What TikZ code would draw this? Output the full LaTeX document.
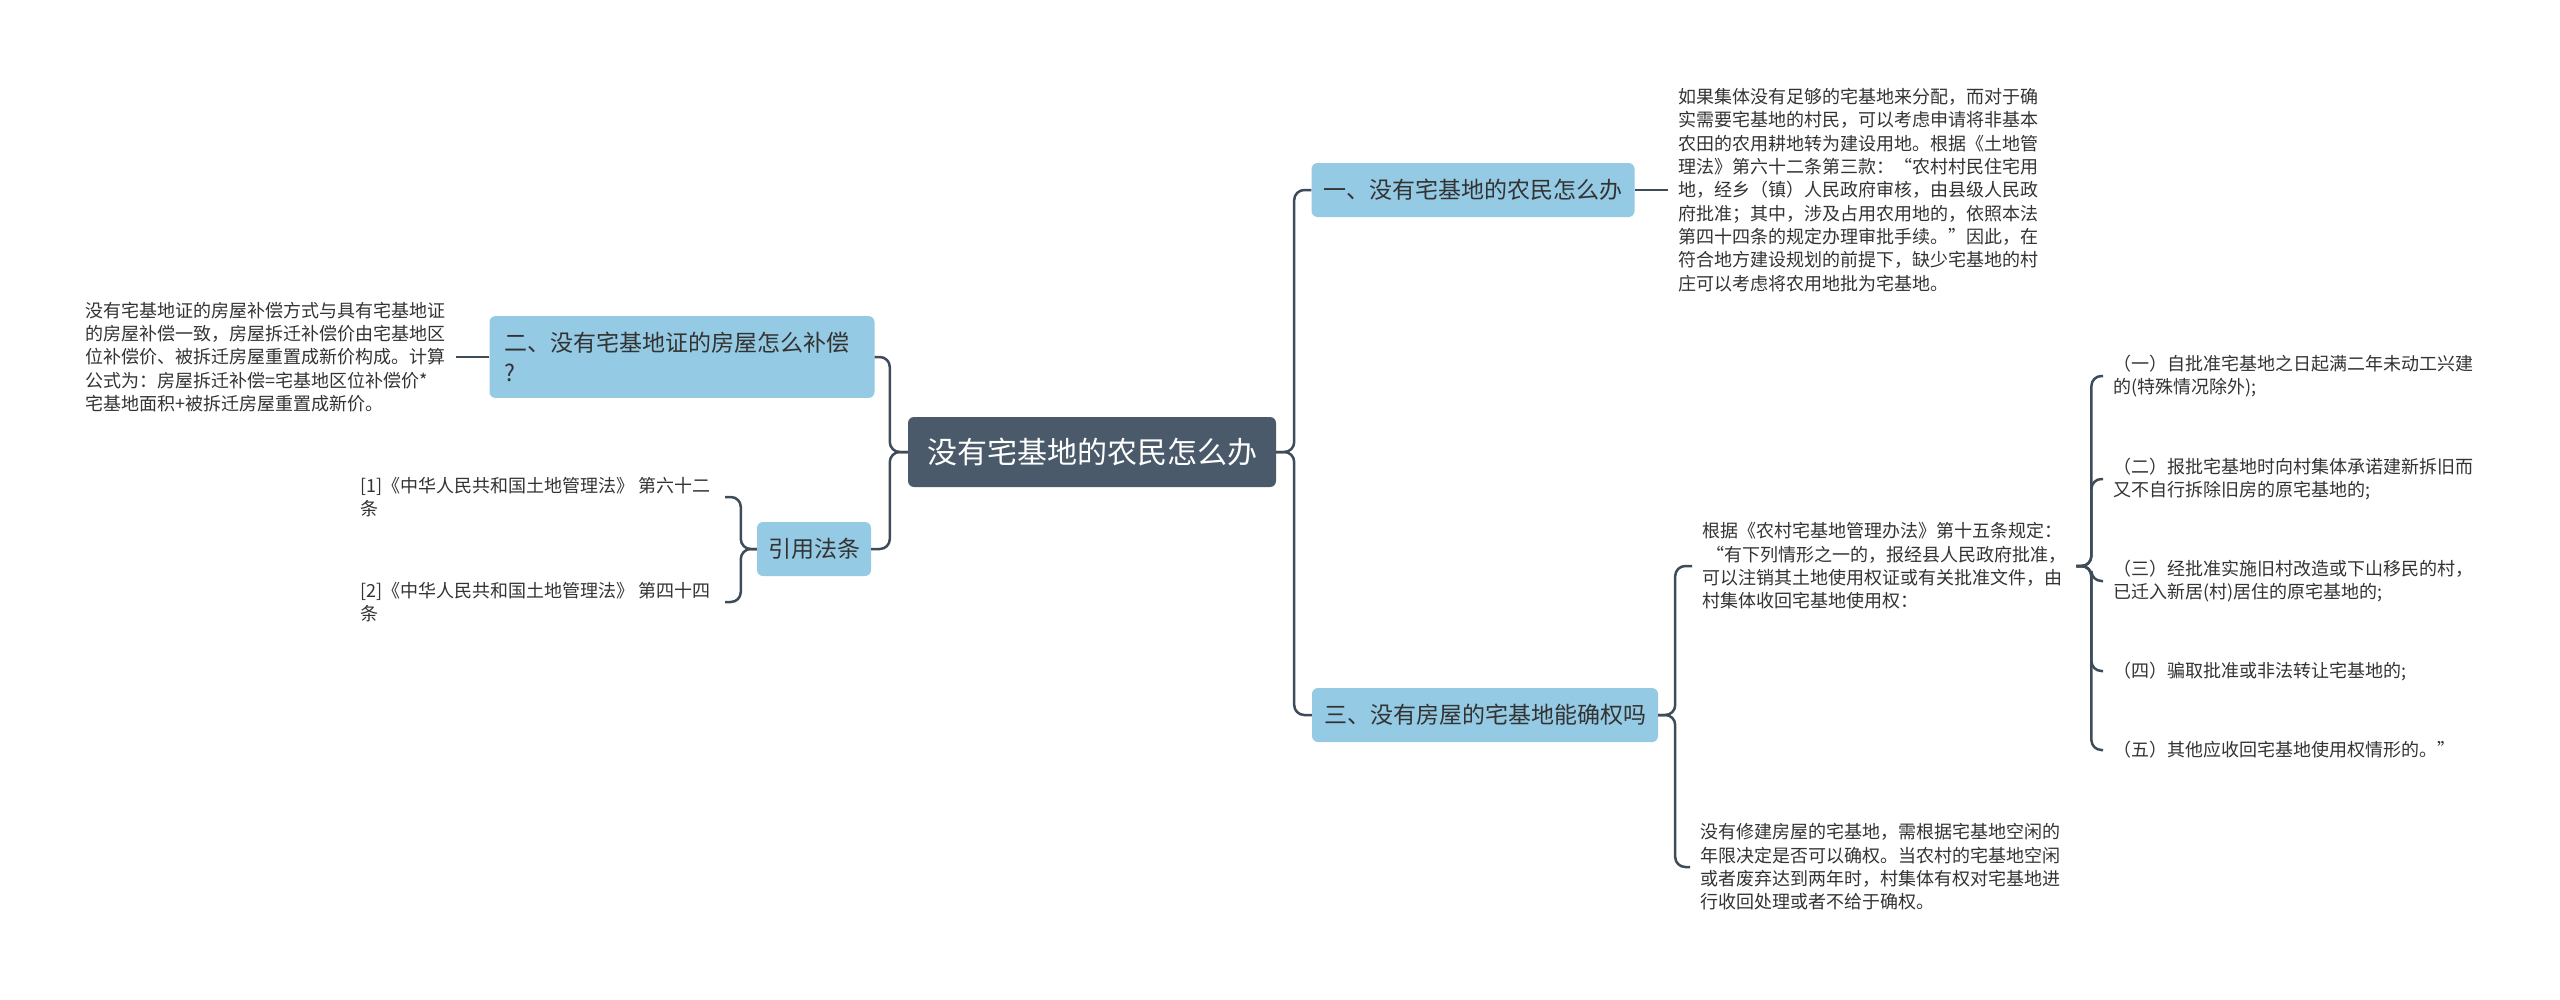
\documentclass[tikz,border=0pt]{standalone}
\usepackage{fontspec}
\setmainfont{Noto Sans CJK SC}
\usepackage{xcolor}
\usepackage{tikz}
\usetikzlibrary{positioning}
\definecolor{rootgray}{RGB}{74,90,106}
\definecolor{branchblue}{RGB}{148,202,227}
\definecolor{linkgray}{RGB}{62,76,89}
\definecolor{textgray}{RGB}{51,51,51}
\tikzset{
  root/.style={fill=rootgray,text=white,rounded corners=6pt,inner xsep=19pt,minimum height=70pt,font=\fontsize{30}{36}\selectfont},
  branch/.style={fill=branchblue,text=textgray,rounded corners=6pt,inner xsep=12pt,minimum height=54pt,font=\fontsize{23}{30}\selectfont},
  leaf/.style={text=textgray,align=left,inner xsep=10pt,inner ysep=4pt,font=\fontsize{18}{23.3}\selectfont},
  link/.style={draw=linkgray,line width=2.5pt,rounded corners=10pt},
}

\begin{document}
\begin{tikzpicture}[x=1pt,y=-1pt]
  \useasboundingbox (0,0) rectangle (2560,999);
  % centre and branches
  \node[root] (root) at (1092,452) {没有宅基地的农民怎么办};
  \node[branch] (b1) at (1473,190) {一、没有宅基地的农民怎么办};
  \node[branch,align=left,text width=355pt,inner xsep=15pt,inner ysep=16pt] (b2) at (682,357) {二、没有宅基地证的房屋怎么补偿\\?};
  \node[branch] (b3) at (1485,715) {三、没有房屋的宅基地能确权吗};
  \node[branch,inner xsep=11pt] (b4) at (814,549) {引用法条};
  % leaves
  \node[leaf,anchor=west] (t1) at (1668,190) {如果集体没有足够的宅基地来分配，而对于确\\实需要宅基地的村民，可以考虑申请将非基本\\农田的农用耕地转为建设用地。根据《土地管\\理法》第六十二条第三款：“农村村民住宅用\\地，经乡（镇）人民政府审核，由县级人民政\\府批准；其中，涉及占用农用地的，依照本法\\第四十四条的规定办理审批手续。”因此，在\\符合地方建设规划的前提下，缺少宅基地的村\\庄可以考虑将农用地批为宅基地。};
  \node[leaf,anchor=east] (t2) at (456,357) {没有宅基地证的房屋补偿方式与具有宅基地证\\的房屋补偿一致，房屋拆迁补偿价由宅基地区\\位补偿价、被拆迁房屋重置成新价构成。计算\\公式为：房屋拆迁补偿=宅基地区位补偿价*\\宅基地面积+被拆迁房屋重置成新价。};
  \node[leaf,anchor=east,inner xsep=14pt] (r1) at (725,497) {[1]《中华人民共和国土地管理法》 第六十二\\条};
  \node[leaf,anchor=east,inner xsep=14pt] (r2) at (725,602) {[2]《中华人民共和国土地管理法》 第四十四\\条};
  \node[leaf,anchor=west] (t3) at (1692,566) {根据《农村宅基地管理办法》第十五条规定：\\\hspace*{4pt}“有下列情形之一的，报经县人民政府批准，\\可以注销其土地使用权证或有关批准文件，由\\村集体收回宅基地使用权：};
  \node[leaf,anchor=west] (t4) at (1690,867) {没有修建房屋的宅基地，需根据宅基地空闲的\\年限决定是否可以确权。当农村的宅基地空闲\\或者废弃达到两年时，村集体有权对宅基地进\\行收回处理或者不给于确权。};
  % items
  \node[leaf,anchor=west] (i1) at (2103,376) {（一）自批准宅基地之日起满二年未动工兴建\\的(特殊情况除外);};
  \node[leaf,anchor=west] (i2) at (2103,479) {（二）报批宅基地时向村集体承诺建新拆旧而\\又不自行拆除旧房的原宅基地的;};
  \node[leaf,anchor=west] (i3) at (2103,581) {（三）经批准实施旧村改造或下山移民的村，\\已迁入新居(村)居住的原宅基地的;};
  \node[leaf,anchor=west] (i4) at (2103,671) {（四）骗取批准或非法转让宅基地的;};
  \node[leaf,anchor=west] (i5) at (2103,750) {（五）其他应收回宅基地使用权情形的。”};
  % links
  \draw[link] (root.east) -- ++(18,0) |- (b1.west);
  \draw[link] (root.east) -- ++(18,0) |- (b3.west);
  \draw[link] (root.west) -- ++(-18,0) |- (b2.east);
  \draw[link] (root.west) -- ++(-18,0) |- (b4.east);
  \draw[link] (b1.east) -- (t1.west);
  \draw[link] (b2.west) -- (t2.east);
  \draw[link] (b4.west) -- ++(-16,0) |- (r1.east);
  \draw[link] (b4.west) -- ++(-16,0) |- (r2.east);
  \draw[link] (b3.east) -- ++(17,0) |- (t3.west);
  \draw[link] (b3.east) -- ++(17,0) |- (t4.west);
  \foreach \i in {1,...,5}
    \draw[link] (t3.east) -- ++(15,0) |- (i\i.west);
\end{tikzpicture}
\end{document}
